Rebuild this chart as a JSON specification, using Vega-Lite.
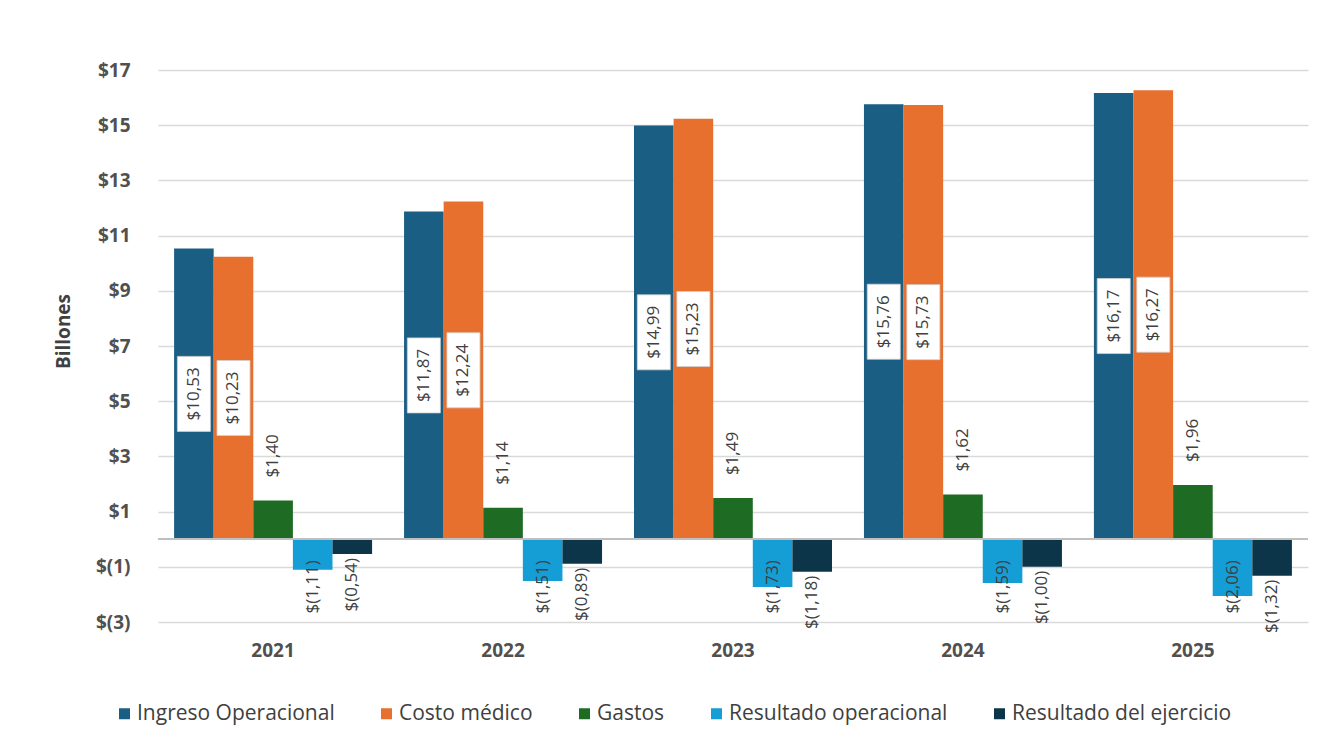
{
  "$schema": "https://vega.github.io/schema/vega-lite/v6.json",
  "width": 1150,
  "height": 552,
  "autosize": {"type": "none"},
  "padding": {"left": 158, "top": 70, "right": 30, "bottom": 129},
  "background": "white",
  "config": {
    "view": {"stroke": null},
    "locale": {"number": {"decimal": ",", "thousands": ".", "grouping": [3], "currency": ["$", ""]}},
    "text": {"font": "Open Sans"}
  },
  "data": {
    "values": [
      {"year": "2021", "serie": "Ingreso Operacional", "value": 10.53},
      {"year": "2021", "serie": "Costo médico", "value": 10.23},
      {"year": "2021", "serie": "Gastos", "value": 1.40},
      {"year": "2021", "serie": "Resultado operacional", "value": -1.11},
      {"year": "2021", "serie": "Resultado del ejercicio", "value": -0.54},
      {"year": "2022", "serie": "Ingreso Operacional", "value": 11.87},
      {"year": "2022", "serie": "Costo médico", "value": 12.24},
      {"year": "2022", "serie": "Gastos", "value": 1.14},
      {"year": "2022", "serie": "Resultado operacional", "value": -1.51},
      {"year": "2022", "serie": "Resultado del ejercicio", "value": -0.89},
      {"year": "2023", "serie": "Ingreso Operacional", "value": 14.99},
      {"year": "2023", "serie": "Costo médico", "value": 15.23},
      {"year": "2023", "serie": "Gastos", "value": 1.49},
      {"year": "2023", "serie": "Resultado operacional", "value": -1.73},
      {"year": "2023", "serie": "Resultado del ejercicio", "value": -1.18},
      {"year": "2024", "serie": "Ingreso Operacional", "value": 15.76},
      {"year": "2024", "serie": "Costo médico", "value": 15.73},
      {"year": "2024", "serie": "Gastos", "value": 1.62},
      {"year": "2024", "serie": "Resultado operacional", "value": -1.59},
      {"year": "2024", "serie": "Resultado del ejercicio", "value": -1.00},
      {"year": "2025", "serie": "Ingreso Operacional", "value": 16.17},
      {"year": "2025", "serie": "Costo médico", "value": 16.27},
      {"year": "2025", "serie": "Gastos", "value": 1.96},
      {"year": "2025", "serie": "Resultado operacional", "value": -2.06},
      {"year": "2025", "serie": "Resultado del ejercicio", "value": -1.32}
    ]
  },
  "encoding": {
    "x": {
      "field": "year", "type": "nominal",
      "scale": {"paddingInner": 0.139, "paddingOuter": 0.07},
      "axis": {
        "title": null, "labelAngle": 0, "domain": false, "ticks": false,
        "labelPadding": 19, "labelFont": "Open Sans", "labelFontWeight": "bold",
        "labelFontSize": 19, "labelColor": "#505050"
      }
    },
    "xOffset": {
      "field": "serie", "type": "nominal",
      "scale": {"domain": ["Ingreso Operacional", "Costo médico", "Gastos", "Resultado operacional", "Resultado del ejercicio"], "paddingInner": 0, "paddingOuter": 0}
    }
  },
  "layer": [
    {
      "layer": [
        {
          "mark": {"type": "bar"},
          "encoding": {
            "y": {
              "field": "value", "type": "quantitative",
              "scale": {"domain": [-3, 17], "nice": false, "zero": false},
              "axis": {
                "values": [-3, -1, 1, 3, 5, 7, 9, 11, 13, 15, 17],
                "labelExpr": "'$' + replace(format(datum.value, '(d'), '.', ',')",
                "grid": true, "gridColor": "#d9d9d9", "gridWidth": 1.5,
                "domain": false, "ticks": false, "labelPadding": 28,
                "labelFont": "Open Sans", "labelFontWeight": "bold", "labelFontSize": 19,
                "labelColor": "#505050",
                "title": "Billones", "titleFont": "Open Sans", "titleFontWeight": "bold",
                "titleFontSize": 19, "titleColor": "#404040", "titlePadding": 22, "titleY": 261
              }
            },
            "color": {
              "field": "serie", "type": "nominal",
              "scale": {
                "domain": ["Ingreso Operacional", "Costo médico", "Gastos", "Resultado operacional", "Resultado del ejercicio"],
                "range": ["#1a5e83", "#e8702f", "#1e6b24", "#159dd6", "#0c3549"]
              },
              "legend": {
                "title": null, "orient": "none", "direction": "horizontal",
                "legendX": -44, "legendY": 633,
                "symbolType": "square", "symbolSize": 121, "symbolStrokeWidth": 0,
                "labelFont": "Open Sans", "labelFontSize": 21, "labelColor": "#404040",
                "labelOffset": 2, "columnPadding": 41, "labelLimit": 0
              }
            }
          }
        },
        {
          "mark": {"type": "rule", "color": "#bfbfbf", "strokeWidth": 1.5},
          "encoding": {"y": {"datum": 0}, "x": null, "xOffset": null}
        },
        {
          "transform": [{"filter": "datum.serie === 'Gastos'"}],
          "mark": {"type": "text", "angle": 270, "align": "left", "baseline": "middle", "dx": 23,
                   "fontSize": 17, "color": "#404040",
                   "text": {"expr": "'$' + replace(format(datum.value, '(.2f'), '.', ',')"}},
          "encoding": {"y": {"field": "value", "type": "quantitative"}}
        },
        {
          "transform": [{"filter": "datum.serie === 'Resultado del ejercicio'"}],
          "mark": {"type": "text", "angle": 270, "align": "right", "baseline": "middle", "dx": -4,
                   "fontSize": 17, "color": "#404040",
                   "text": {"expr": "'$' + replace(format(datum.value, '(.2f'), '.', ',')"}},
          "encoding": {"y": {"field": "value", "type": "quantitative"}}
        },
        {
          "transform": [{"filter": "datum.serie === 'Resultado operacional'"}],
          "mark": {"type": "text", "angle": 270, "align": "right", "baseline": "middle", "dx": 0,
                   "fontSize": 17, "color": "#404040",
                   "text": {"expr": "'$' + replace(format(datum.value, '(.2f'), '.', ',')"}},
          "encoding": {"y": {"datum": -0.76, "type": "quantitative"}}
        }
      ]
    },
    {
      "transform": [{"filter": "datum.serie === 'Ingreso Operacional' || datum.serie === 'Costo médico'"}],
      "encoding": {
        "y": {"field": "value", "type": "quantitative", "scale": {"domain": [-6, 34], "nice": false, "zero": false}, "axis": null}
      },
      "layer": [
        {
          "mark": {"type": "point", "shape": "M-0.44,-1L0.44,-1L0.44,1L-0.44,1Z", "size": 5625,
                   "filled": true, "fill": "white", "stroke": "#d0d0d0", "strokeWidth": 0.8, "opacity": 1}
        },
        {
          "mark": {"type": "text", "angle": 270, "align": "center", "baseline": "middle",
                   "fontSize": 17, "color": "#404040",
                   "text": {"expr": "'$' + replace(format(datum.value, '(.2f'), '.', ',')"}}
        }
      ]
    }
  ],
  "resolve": {"scale": {"y": "independent"}}
}
